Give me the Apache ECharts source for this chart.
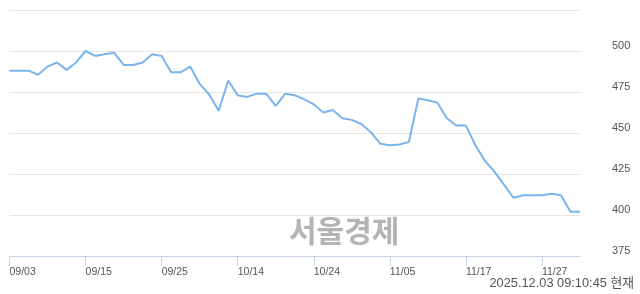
<!DOCTYPE html>
<html>
<head>
<meta charset="utf-8">
<script src="https://cdn.jsdelivr.net/npm/echarts@6/dist/echarts.min.js"></script>
<style>
html,body{margin:0;padding:0;background:#fff;}
#c{width:640px;height:294px;}
</style>
</head>
<body>
<div id="c"></div>
<script>
const dates = ['09/03','09/04','09/05','09/08','09/09','09/10','09/11','09/12','09/15','09/16','09/17','09/18','09/19','09/22','09/23','09/24','09/25','09/26','09/29','09/30','10/01','10/02','10/10','10/13','10/14','10/15','10/16','10/17','10/20','10/21','10/22','10/23','10/24','10/27','10/28','10/29','10/30','10/31','11/03','11/04','11/05','11/06','11/07','11/10','11/11','11/12','11/13','11/14','11/17','11/18','11/19','11/20','11/21','11/24','11/25','11/26','11/27','11/28','12/01','12/02','12/03'];
const prices = [488,488,488,485.5,490.5,493,488.5,493,500,497,498,499,491.5,491.5,493,498,497,487,487,490.5,480,473.5,463.5,482,473,472,474,474,466.5,474,473,470.5,467.5,462.5,464,459,458,455.5,450.5,443.5,442.5,443,444.5,471,470,468.5,459,454.5,454.5,442.5,433,426.5,418.5,410.5,412,412,412,413,412,402,402];
const yMin = 375, yMax = 525, yStep = 25;
const watermark = '서울경제';
const stamp = '2025.12.03 09:10:45 현재';

const chart = echarts.init(document.getElementById('c'), null, {renderer:'canvas'});
chart.setOption({
  animation:false,
  backgroundColor:'#fff',
  grid:{left:9.5,right:60,top:10,bottom:38,containLabel:false},
  graphic:[
    {type:'text',left:289,top:216,style:{text:watermark,font:'bold 30px "Noto Sans CJK KR", sans-serif',fill:'#b4b4b4'}},
    {type:'text',right:6,top:277,style:{text:stamp,font:'12.8px "Liberation Sans", "Noto Sans CJK KR", sans-serif',fill:'#555'}}
  ],
  xAxis:{
    type:'category',data:dates,boundaryGap:false,
    axisLine:{lineStyle:{color:'#c8d4e8',width:1}},
    axisTick:{show:true,interval:7,length:10,lineStyle:{color:'#c8d4e8'}},
    axisLabel:{interval:7,align:'left',margin:11,color:'#555',fontSize:10.5,fontFamily:'"Liberation Sans", Arial, sans-serif'},
    splitLine:{show:false}
  },
  yAxis:{
    type:'value',position:'right',min:yMin,max:yMax,interval:yStep,
    axisLine:{show:false},axisTick:{show:false},
    axisLabel:{margin:32,color:'#555',fontSize:11,fontFamily:'"Liberation Sans", Arial, sans-serif',showMaxLabel:false,verticalAlign:'bottom'},
    splitLine:{lineStyle:{color:'#e6e6e6',width:1}}
  },
  series:[{
    type:'line',data:prices,symbol:'none',smooth:false,
    lineStyle:{color:'#7cb5ec',width:2}
  }]
});
</script>
</body>
</html>
